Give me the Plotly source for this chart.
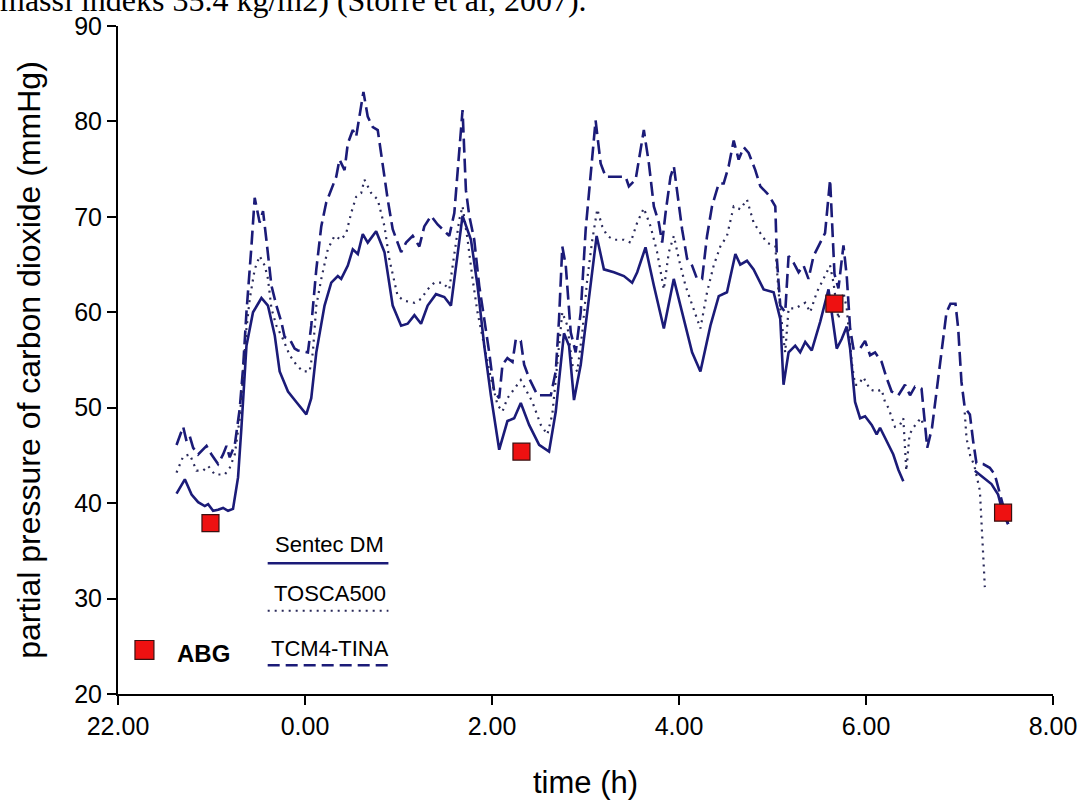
import plotly.graph_objects as go

# ---------------- data (hours since 22:00, PCO2 in mmHg) ----------------
tick_vals = [0, 2, 4, 6, 8, 10]
tick_text = ["22.00", "0.00", "2.00", "4.00", "6.00", "8.00"]

sentec_t = [0.626, 0.715, 0.787, 0.857, 0.928, 0.964, 1.017, 1.070, 1.124, 1.177, 1.230,
            1.284, 1.320, 1.374, 1.444, 1.534, 1.604, 1.676, 1.729, 1.818, 1.907, 2.014,
            2.067, 2.121, 2.209, 2.281, 2.351, 2.387, 2.458, 2.511, 2.565, 2.618, 2.671,
            2.761, 2.850, 2.938, 3.028, 3.098, 3.170, 3.241, 3.312, 3.401, 3.490, 3.561,
            3.685, 3.775, 3.845, 3.917, 3.988, 4.077, 4.165, 4.237, 4.308, 4.397, 4.504,
            4.610, 4.682, 4.735, 4.770, 4.824, 4.877, 4.949, 5.037, 5.119, 5.197, 5.304,
            5.411, 5.499, 5.553, 5.642, 5.731, 5.838, 5.944, 6.051, 6.140, 6.229, 6.336,
            6.425, 6.513, 6.603, 6.655, 6.727, 6.798, 6.905, 7.012, 7.083, 7.118, 7.172,
            7.243, 7.296, 7.350, 7.420, 7.510, 7.599, 7.634, 7.687, 7.740, 7.794, 7.830,
            7.883, 7.937, 7.990, 8.061, 8.114, 8.150, 8.221, 8.292, 8.346, 8.399, 8.80,
            9.164, 9.253, 9.342, 9.413, 9.466, 9.520]
sentec_v = [41.0, 42.5, 40.9, 40.1, 39.7, 39.9, 39.2, 39.3, 39.5, 39.2, 39.4,
            42.7, 47.9, 56.5, 60.0, 61.5, 60.7, 57.6, 53.8, 51.7, 50.6, 49.3,
            51.0, 55.8, 60.7, 63.1, 63.8, 63.5, 64.9, 66.6, 66.1, 68.2, 67.3,
            68.5, 66.3, 60.7, 58.6, 58.8, 59.7, 58.8, 60.7, 61.9, 61.6, 60.7,
            70.1, 67.6, 62.8, 56.5, 51.3, 45.6, 48.6, 48.9, 50.5, 48.2, 46.1,
            45.4, 49.6, 54.5, 57.8, 56.5, 50.8, 54.5, 61.7, 68.0, 64.5, 64.2,
            63.8, 63.1, 64.2, 66.8, 62.8, 58.3, 63.5, 59.3, 55.8, 53.8, 58.6,
            61.7, 62.1, 66.1, 65.0, 65.4, 64.5, 62.4, 62.1, 59.3, 52.4, 55.8,
            56.5, 55.8, 56.9, 56.0, 59.0, 62.4, 60.0, 56.2, 57.2, 58.5, 56.2,
            50.6, 48.9, 49.1, 48.2, 47.2, 47.9, 46.5, 45.1, 43.5, 42.3, None,
            43.4, 42.7, 42.0, 40.9, 38.9, 37.8]

tosca_t = [0.626, 0.697, 0.768, 0.840, 0.910, 0.964, 1.035, 1.142, 1.195, 1.249, 1.302,
           1.337, 1.374, 1.409, 1.462, 1.515, 1.569, 1.604, 1.641, 1.694, 1.764, 1.836,
           1.907, 1.978, 2.049, 2.084, 2.121, 2.174, 2.244, 2.316, 2.387, 2.441, 2.494,
           2.547, 2.601, 2.636, 2.708, 2.778, 2.850, 2.903, 2.991, 3.063, 3.170, 3.241,
           3.312, 3.383, 3.472, 3.543, 3.597, 3.650, 3.685, 3.739, 3.792, 3.845, 3.917,
           3.988, 4.059, 4.112, 4.165, 4.237, 4.308, 4.362, 4.432, 4.522, 4.592, 4.645,
           4.699, 4.752, 4.806, 4.859, 4.912, 4.966, 5.019, 5.073, 5.126, 5.179, 5.233,
           5.304, 5.411, 5.482, 5.553, 5.624, 5.696, 5.766, 5.838, 5.891, 5.945, 5.998,
           6.069, 6.140, 6.229, 6.300, 6.371, 6.442, 6.513, 6.585, 6.655, 6.727, 6.798,
           6.870, 6.940, 7.030, 7.065, 7.118, 7.136, 7.172, 7.243, 7.296, 7.350, 7.403,
           7.474, 7.545, 7.616, 7.652, 7.705, 7.759, 7.794, 7.847, 7.883, 7.918, 7.972,
           8.044, 8.114, 8.167, 8.203, 8.239, 8.274, 8.310, 8.364, 8.399, 8.431, 8.466,
           8.506, 8.559, 8.594, 8.612, 8.85, 9.056, 9.075, 9.114, 9.157, 9.218, 9.242,
           9.271]
tosca_v = [43.2, 44.9, 45.1, 43.4, 43.4, 43.9, 43.0, 43.0, 43.7, 45.1, 48.9,
           53.1, 58.3, 61.4, 64.5, 65.9, 64.9, 63.5, 60.4, 58.6, 57.2, 55.5,
           54.5, 53.8, 53.8, 55.8, 60.7, 63.5, 66.6, 68.0, 67.6, 68.3, 70.4,
           72.1, 72.5, 73.9, 72.5, 71.8, 69.0, 65.5, 61.7, 61.2, 61.0, 61.4,
           62.4, 63.1, 63.1, 62.4, 66.3, 69.7, 71.1, 67.6, 63.5, 60.0, 56.5,
           53.1, 50.3, 49.6, 51.0, 52.0, 52.9, 51.9, 50.6, 48.2, 47.2, 49.3,
           54.8, 60.0, 58.6, 54.5, 53.8, 57.9, 63.5, 67.6, 70.8, 69.0, 68.0,
           67.6, 67.6, 67.3, 69.4, 70.9, 69.0, 66.3, 62.4, 66.3, 68.0, 65.6,
           62.8, 60.7, 58.3, 62.1, 64.9, 66.9, 68.0, 71.1, 70.8, 71.8, 69.4,
           68.3, 67.3, 66.9, 62.1, 57.2, 55.8, 60.4, 60.4, 60.7, 61.0, 60.0,
           62.1, 63.5, 64.9, 63.1, 59.3, 62.1, 60.4, 54.8, 52.4, 52.4, 53.2,
           51.9, 51.7, 51.9, 50.6, 50.0, 48.9, 48.0, 48.2, 48.9, 43.4, 47.2,
           47.9, 48.6, 48.9, 48.0, None, 49.5, 46.8, 45.0, 44.0, 41.3, 37.0,
           31.2]

tina_t = [0.626, 0.697, 0.733, 0.768, 0.804, 0.857, 0.947, 1.000, 1.070, 1.124, 1.160,
          1.195, 1.249, 1.302, 1.337, 1.374, 1.427, 1.462, 1.515, 1.551, 1.587, 1.641,
          1.694, 1.747, 1.782, 1.836, 1.889, 1.924, 2.031, 2.067, 2.121, 2.174, 2.227,
          2.281, 2.334, 2.369, 2.423, 2.458, 2.511, 2.547, 2.583, 2.625, 2.671, 2.725,
          2.778, 2.831, 2.885, 2.938, 3.028, 3.081, 3.152, 3.223, 3.276, 3.348, 3.418,
          3.472, 3.543, 3.597, 3.650, 3.685, 3.721, 3.757, 3.810, 3.863, 3.917, 3.970,
          4.023, 4.077, 4.112, 4.165, 4.219, 4.255, 4.308, 4.344, 4.397, 4.432, 4.486,
          4.629, 4.682, 4.717, 4.752, 4.789, 4.842, 4.895, 4.949, 5.002, 5.055, 5.108,
          5.162, 5.216, 5.429, 5.464, 5.536, 5.570, 5.624, 5.678, 5.731, 5.784, 5.820,
          5.856, 5.909, 5.945, 5.980, 6.033, 6.087, 6.140, 6.193, 6.247, 6.300, 6.353,
          6.425, 6.478, 6.531, 6.585, 6.638, 6.692, 6.745, 6.816, 6.870, 6.940, 6.976,
          7.030, 7.047, 7.083, 7.136, 7.172, 7.225, 7.279, 7.332, 7.385, 7.439, 7.510,
          7.562, 7.616, 7.663, 7.705, 7.759, 7.794, 7.830, 7.865, 7.937, 7.990, 8.044,
          8.097, 8.167, 8.221, 8.274, 8.346, 8.417, 8.471, 8.524, 8.594, 8.630, 8.655,
          8.706, 8.759, 8.796, 8.831, 8.861, 8.903, 8.957, 8.986, 9.021, 9.056, 9.111,
          9.146, 9.181, 9.253, 9.324, 9.377, 9.466, 9.520]
tina_v = [46.1, 48.0, 46.5, 47.0, 45.8, 45.1, 46.0, 45.1, 44.1, 45.1, 46.0,
          44.8, 46.1, 49.9, 54.1, 60.0, 66.9, 72.0, 69.4, 70.6, 67.6, 62.8,
          60.7, 59.0, 57.4, 57.2, 56.2, 56.0, 55.8, 58.6, 64.5, 69.0, 71.5,
          72.8, 74.2, 76.0, 74.9, 77.7, 79.1, 78.4, 80.8, 83.1, 80.5, 79.4,
          79.1, 75.3, 71.8, 68.7, 66.3, 67.3, 68.0, 66.9, 69.0, 70.1, 69.2,
          68.7, 68.0, 70.4, 77.3, 81.2, 72.8, 70.1, 67.6, 62.8, 59.3, 55.8,
          51.7, 51.0, 54.5, 55.2, 54.8, 57.2, 57.0, 54.5, 53.1, 52.4, 51.3,
          51.3, 53.8, 59.3, 66.9, 64.9, 57.9, 55.8, 60.0, 68.7, 74.6, 80.1,
          75.6, 74.2, 74.2, 73.2, 73.9, 76.0, 79.1, 75.6, 71.1, 69.4, 67.3,
          70.4, 74.2, 75.3, 72.8, 68.7, 65.6, 64.9, 63.5, 63.5, 68.0, 71.1,
          73.5, 73.5, 75.3, 78.0, 76.0, 77.3, 76.7, 74.9, 73.2, 72.5, 72.0,
          71.1, 65.6, 60.7, 60.0, 65.9, 65.2, 64.2, 64.9, 63.5, 65.9, 67.3,
          68.3, 73.9, 64.0, 62.5, 67.0, 63.8, 58.3, 56.2, 56.2, 57.0, 55.5,
          55.8, 54.8, 53.1, 51.7, 51.3, 52.4, 51.3, 52.2, 52.0, 48.6, 45.8,
          47.9, 52.0, 54.8, 57.9, 60.0, 60.9, 60.9, 58.3, 52.7, 50.0, 49.3,
          46.5, 44.2, 44.1, 43.7, 43.0, 39.9, 37.8]

abg_t = [0.989, 4.315, 7.662, 9.466]
abg_v = [37.9, 45.4, 60.9, 39.0]

series_names = ["Sentec DM", "TOSCA500", "TCM4-TINA", "ABG"]

# ---------------- styling ----------------
NAVY = "#1b1b78"
DOTC = "#2a2a5a"
FONT = "Liberation Sans, Arial, sans-serif"

fig = go.Figure()
fig.add_trace(go.Scatter(x=tina_t, y=tina_v, mode="lines", name=series_names[2],
                         line=dict(color=NAVY, width=2.6, dash="14px,6px"),
                         connectgaps=False, showlegend=False))
fig.add_trace(go.Scatter(x=tosca_t, y=tosca_v, mode="lines", name=series_names[1],
                         line=dict(color=DOTC, width=2.2, dash="2px,5px"),
                         connectgaps=False, showlegend=False))
fig.add_trace(go.Scatter(x=sentec_t, y=sentec_v, mode="lines", name=series_names[0],
                         line=dict(color=NAVY, width=2.6),
                         connectgaps=False, showlegend=False))
fig.add_trace(go.Scatter(x=abg_t, y=abg_v, mode="markers", name=series_names[3],
                         marker=dict(symbol="square", size=17, color="#ee1111",
                                     line=dict(color="#3a1010", width=1.2)),
                         showlegend=False))

L, R, T, B = 118, 34, 23, 109
W, H = 1089, 806
PW, PH = W - L - R, H - T - B


def px(xpix):
    return (xpix - L) / PW


def py(ypix):
    return (H - B - ypix) / PH


# custom legend
legend_items = [
    (series_names[0], 546, 565, dict(color=NAVY, width=2.6)),
    (series_names[1], 596, 613, dict(color=DOTC, width=2.2, dash="2px,5px")),
    (series_names[2], 651, 668, dict(color=NAVY, width=2.6, dash="12px,6px")),
]
for name, ty, ly, lstyle in legend_items:
    fig.add_annotation(xref="paper", yref="paper", x=px(330), y=py(ty), text=name,
                       showarrow=False, xanchor="center", yanchor="middle",
                       font=dict(family=FONT, size=22, color="black"))
    fig.add_shape(type="line", xref="paper", yref="paper", x0=px(268), x1=px(389),
                  y0=py(ly), y1=py(ly), line=lstyle)

fig.add_shape(type="rect", xref="paper", yref="paper", x0=px(135), x1=px(154),
              y0=py(662), y1=py(643), fillcolor="#ee1111",
              line=dict(color="#3a1010", width=1.2))
fig.add_annotation(xref="paper", yref="paper", x=px(204), y=py(656), text="<b>ABG</b>",
                   showarrow=False, xanchor="center", yanchor="middle",
                   font=dict(family=FONT, size=24, color="black"))

# clipped line of surrounding document text at the top
fig.add_annotation(xref="paper", yref="paper", x=px(-2), y=py(-3.5), xanchor="left",
                   yanchor="middle", showarrow=False,
                   text="massi indeks 35.4 kg/m2) (Storre et al, 2007).",
                   font=dict(family="Liberation Serif, Times New Roman, serif", size=32,
                             color="black"))

fig.update_layout(
    width=W, height=H,
    margin=dict(l=L, r=R, t=T, b=B),
    paper_bgcolor="white", plot_bgcolor="white",
    font=dict(family=FONT, color="black"),
)
fig.update_xaxes(range=[0, 10], tickvals=tick_vals, ticktext=tick_text,
                 showline=True, linecolor="black", linewidth=2,
                 ticks="outside", ticklen=9, tickwidth=2, tickcolor="black",
                 showgrid=False, zeroline=False,
                 tickfont=dict(family=FONT, size=25),
                 title=dict(text="time (h)", font=dict(family=FONT, size=31), standoff=32))
fig.update_yaxes(range=[20, 90], dtick=10, tick0=20,
                 showline=True, linecolor="black", linewidth=2,
                 ticks="outside", ticklen=9, tickwidth=2, tickcolor="black",
                 showgrid=False, zeroline=False,
                 tickfont=dict(family=FONT, size=25),
                 title=dict(text="partial pressure of carbon dioxide (mmHg)",
                            font=dict(family=FONT, size=32), standoff=24))

fig.write_html("out.html", config={"displayModeBar": False},
               post_script="document.body.style.margin='0';")
